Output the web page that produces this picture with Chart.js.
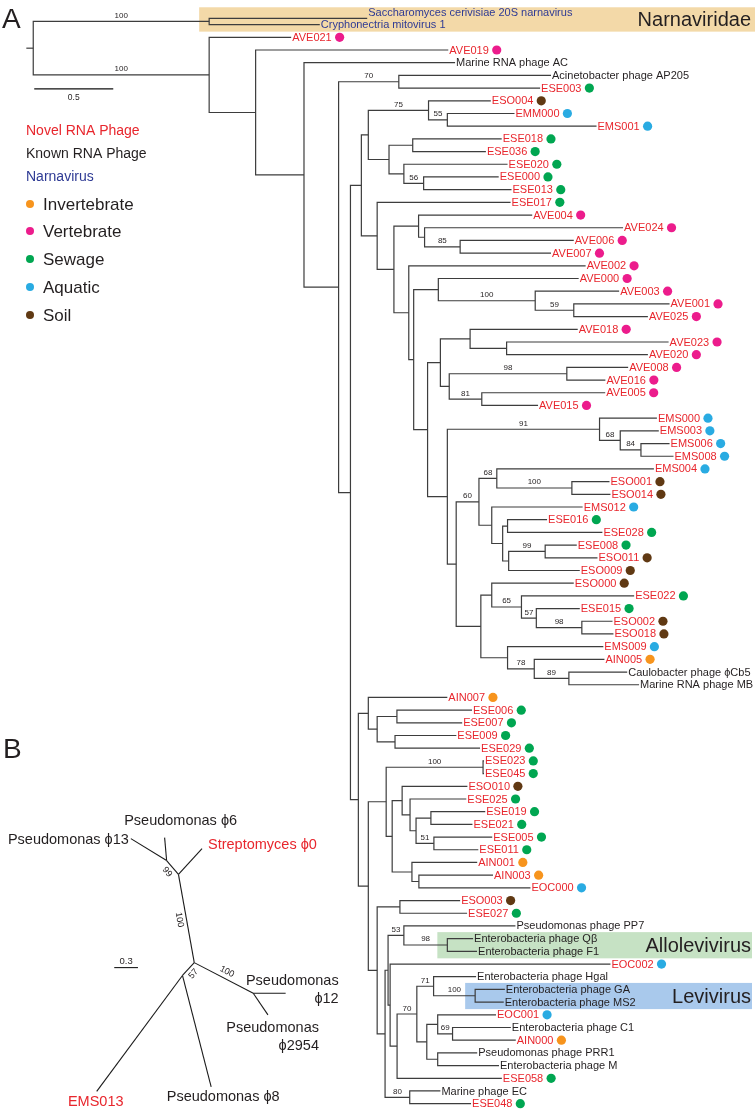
<!DOCTYPE html>
<html><head><meta charset="utf-8"><title>RNA phage phylogeny</title>
<script src="https://cdn.jsdelivr.net/npm/chart.js"></script>
<style>html,body{margin:0;padding:0;background:#fff;overflow:hidden}canvas{display:block}</style>
</head><body>
<canvas id="tree" width="755" height="1116"></canvas>
<script>
// ================= DATA =================
// Panel A: rooted tree in Newick (branch lengths in substitutions/site, internal labels = bootstrap)
const cladeNarnaviridae = "('Saccharomyces cerivisiae 20S narnavirus':1.000,'Cryphonectria mitovirus 1':0.700)100:1.113";
const cladeSewageA = "((ESO004:0.394,(EMM000:0.425,EMS001:0.944)55:0.119)75:0.381,((ESE018:0.563,ESE036:0.463):0.150,(ESE020:0.656,(ESE000:0.475,ESE013:0.556)56:0.125):0.094):0.131):0.044";
const cladeVertA = "(AVE004:0.719,(AVE024:1.256,(AVE006:0.719,AVE007:0.575)85:0.225):0.038):0.156";
const cladeVertB = "(AVE000:0.888,(AVE003:0.531,(AVE001:0.606,AVE025:0.469)59:0.244)100:0.613):0.156";
const cladeVertC = "((AVE018:0.681,(AVE023:1.025,AVE020:0.894):0.231):0.188,((AVE008:0.388,AVE016:0.244)98:0.744,(AVE005:0.781,AVE015:0.356)81:0.206):0.056):0.081";
const cladeAquatic = "(EMS000:0.363,(EMS003:0.244,(EMS006:0.181,EMS008:0.206)84:0.131)68:0.131)91:0.963";
const cladeMixedA = "((EMS004:0.994,(ESO001:0.238,ESO014:0.244)100:0.475)68:0.113,(EMS012:0.575,((ESE016:0.250,ESE028:0.600):0.031,((ESE008:0.200,ESO011:0.331)99:0.231,ESO009:0.450):0.038):0.069):0.081)60:0.144";
const cladeMixedB = "((ESO000:0.519,(ESE022:0.713,(ESE015:0.275,(ESO002:0.194,ESO018:0.200)98:0.288)57:0.094)65:0.188):0.069,(EMS009:0.606,(AIN005:0.444,('Caulobacter phage ϕCb5':0.369,'Marine RNA phage MB':0.444)89:0.219)78:0.169):0.169):0.156";
const cladeSewageB = "(AIN007:0.500,((ESE006:0.475,ESE007:0.413):0.125,(ESE009:0.388,ESE029:0.538):0.113):0.056):0.063";
const cladeSewageC = "((ESE023:0.006,ESE045:0.006)100:0.613,((ESO010:0.413,(ESE025:0.356,((ESE019:0.344,ESE021:0.263):0.094,(ESE005:0.369,ESE011:0.281)51:0.113):0.038):0.050):0.063,(AIN001:0.413,(AIN003:0.469,EOC000:0.706):0.044):0.125):0.038):0.113";
const cladeLevi = "((ESO003:0.381,ESE027:0.425):0.144,((('Pseudomonas phage PP7':0.706,('Enterobacteria phage Qβ':0.163,'Enterobacteria phage F1':0.188)98:0.275)53:0.100,(EOC002:1.394,((('Enterobacteria phage Hgal':0.269,('Enterobacteria phage GA':0.188,'Enterobacteria phage MS2':0.181)100:0.263)71:0.106,((EOC001:0.369,('Enterobacteria phage C1':0.369,AIN000:0.400)69:0.094):0.069,('Pseudomonas phage PRR1':0.250,'Enterobacteria phage M':0.388):0.069):0.063)70:0.125,ESE058:0.663):0.044):0.013):0.019,('Marine phage EC':0.194,ESE048:0.388)80:0.156):0.050):0.056";

const treeNewick =
  "(" + cladeNarnaviridae + ",(AVE021:0.519,(AVE019:1.219,('Marine RNA phage AC':0.956,(('Acinetobacter phage AP205':0.963,ESE003:0.894)70:0.381," +
  "((" + cladeSewageA + ",(ESE017:0.844,(" + cladeVertA + ",(AVE002:1.119,(" + cladeVertB + ",(" + cladeVertC + ",(" + cladeAquatic + ",(" + cladeMixedA + "," + cladeMixedB + "):0.056):0.125):0.088):0.031):0.094):0.106):0.100):0.069," +
  "(" + cladeSewageB + ",(" + cladeSewageC + "," + cladeLevi + "):0.063):0.050):0.075):0.219):0.306):0.294)100:1.113);";

const narnaviruses = ['Saccharomyces cerivisiae 20S narnavirus', 'Cryphonectria mitovirus 1'];
const habitatNames = ['Invertebrate', 'Vertebrate', 'Sewage', 'Aquatic', 'Soil'];
const habitatPrefixes = [['AIN'], ['AVE'], ['ESE'], ['EMS', 'EMM', 'EOC'], ['ESO']];
const habitatColors = ['#f7941d', '#ec1c8c', '#00a651', '#29abe2', '#603913'];
const kindNames = ['Novel RNA Phage', 'Known RNA Phage', 'Narnavirus'];
const kindColors = ['#e8262d', '#231f20', '#2e3a94'];

const highlightNames = ['Narnaviridae', 'Allolevivirus', 'Levivirus'];
const highlightMembers = [
  ['Saccharomyces cerivisiae 20S narnavirus', 'Cryphonectria mitovirus 1'],
  ['Enterobacteria phage Qβ', 'Enterobacteria phage F1'],
  ['Enterobacteria phage GA', 'Enterobacteria phage MS2']
];
const highlightFills = ['#f3d9a8', '#c6e2c4', '#a9c9ec'];
const scaleBarA = 0.5;

// Panel B: unrooted tree (edges: parent, child, branch length, direction in degrees)
const unrootedParents  = ['n3', 'n2', 'n1', 'n1', 'n2', 'n3', 'n4', 'n4', 'n3', 'n5', 'n5'];
const unrootedChildren = ['n2', 'n1', 'Pseudomonas ϕ13', 'Pseudomonas ϕ6', 'Streptomyces ϕ0', 'n4', 'Pseudomonas ϕ12', 'Pseudomonas ϕ2954', 'n5', 'EMS013', 'Pseudomonas ϕ8'];
const unrootedLengths  = [1.13, 0.23, 0.53, 0.29, 0.44, 0.84, 0.41, 0.33, 0.22, 1.82, 1.45];
const unrootedAngles   = [-100.2, -130.6, -148.6, -95, -47.3, 27.3, 0, 55.7, 132.7, 126.6, 75.5];
const unrootedSupportNodes  = ['n1', 'n2', 'n4', 'n5'];
const unrootedSupportValues = [99, 100, 100, 57];
const unrootedNovel = ['Streptomyces ϕ0', 'EMS013'];
const scaleBarB = 0.3;

// ================= BUILD =================
function parseNewick(s) {
  let i = 0;
  const ws = () => { while (i < s.length && /\s/.test(s[i])) i++; };
  const label = () => {
    ws();
    if (s[i] === "'") { i++; const j = s.indexOf("'", i); const t = s.slice(i, j); i = j + 1; return t; }
    let j = i; while (j < s.length && !",():;".includes(s[j])) j++;
    const t = s.slice(i, j).trim(); i = j; return t;
  };
  const node = () => {
    ws();
    const n = { children: [], name: '', support: '', length: 0 };
    if (s[i] === '(') {
      i++;
      n.children.push(node()); ws();
      while (s[i] === ',') { i++; n.children.push(node()); ws(); }
      i++;
      n.support = label();
    } else n.name = label();
    ws();
    if (s[i] === ':') { i++; let j = i; while (j < s.length && !",();".includes(s[j])) j++; n.length = parseFloat(s.slice(i, j)); i = j; }
    return n;
  };
  return node();
}

const root = parseNewick(treeNewick);
const leaves = [], internals = [];
(function walk(n, parent) {
  n.parent = parent;
  n.depth = parent ? parent.depth + n.length : 0;
  if (n.children.length) { internals.push(n); n.children.forEach(c => walk(c, n)); }
  else leaves.push(n);
})(root, null);

let prev = null, r = 0;
leaves.forEach(l => {
  l.compact = false;
  if (prev) {
    const both = narnaviruses.includes(prev.name) && narnaviruses.includes(l.name);
    r += both ? 0.5 : 1;
    if (both) prev.compact = true;
  }
  l.row = r; prev = l;
});
(function setRow(n) {
  if (!n.children.length) return n.row;
  n.children.forEach(setRow);
  n.row = (n.children[0].row + n.children[n.children.length - 1].row) / 2;
  return n.row;
})(root);

function habitatOf(name) {
  for (let k = 0; k < habitatPrefixes.length; k++)
    if (habitatPrefixes[k].some(p => name.startsWith(p))) return k;
  return -1;
}
function kindOf(name) {
  if (narnaviruses.includes(name)) return 2;
  return habitatOf(name) >= 0 ? 0 : 1;
}
const leafByName = {};
leaves.forEach(l => leafByName[l.name] = l);
function ancestors(n) { const a = []; while (n) { a.push(n); n = n.parent; } return a; }
function mrca(a, b) { const A = ancestors(a); let n = b; while (n && !A.includes(n)) n = n.parent; return n; }

// Scale ranges (chart area covers the whole canvas)
const X_MIN = -0.18125, X_MAX = 4.5375;       // panel A branch length axis
const Y_MIN = -1.078125, Y_MAX = 86.109375;   // panel A leaf rows
const XB_MIN = -2.4, XB_MAX = 7.0375;         // panel B units
const YB_MIN = -12.075, YB_MAX = 1.875;
const PX_PER_UNIT = 755 / (X_MAX - X_MIN);
const FONT = '"Liberation Sans", Arial, Helvetica, sans-serif';
const LINE = '#3d3d3d';

const measure = document.createElement('canvas').getContext('2d');
measure.font = '11px ' + FONT;

const datasets = [];
const lineStyle = { showLine: true, pointRadius: 0, borderColor: LINE, borderWidth: 1.2, fill: false, tension: 0, borderCapStyle: 'butt', borderJoinStyle: 'miter', clip: false };

internals.forEach(n => {
  const a = n.children[0], b = n.children[n.children.length - 1];
  datasets.push(Object.assign({
    data: [{ x: a.depth, y: a.row }, { x: n.depth, y: a.row }, { x: n.depth, y: b.row }, { x: b.depth, y: b.row }]
  }, lineStyle));
});
// root stub
datasets.push(Object.assign({ data: [{ x: -7 / PX_PER_UNIT, y: root.row }, { x: 0, y: root.row }] }, lineStyle));
// scale bar A
const sbRow = (85 - 13.8) / 12.8, sbStart = 1 / PX_PER_UNIT;
datasets.push(Object.assign({ data: [{ x: sbStart, y: sbRow }, { x: sbStart + scaleBarA, y: sbRow }] }, lineStyle, { borderColor: '#111', borderWidth: 1.3 }));

// habitat dots
const dotPts = [], dotCols = [];
leaves.forEach(l => {
  const h = habitatOf(l.name);
  if (h < 0) return;
  const w = measure.measureText(l.name).width;
  dotPts.push({ x: l.depth + (1 + w + 8.5) / PX_PER_UNIT, y: l.row });
  dotCols.push(habitatColors[h]);
});
datasets.push({ data: dotPts, showLine: false, pointRadius: 4.6, pointBackgroundColor: dotCols, pointBorderWidth: 0, borderColor: 'transparent', clip: false });

// Panel B geometry
const bPos = { n3: { x: 0, y: 0 } };
unrootedChildren.forEach((c, k) => {
  const p = bPos[unrootedParents[k]], a = unrootedAngles[k] * Math.PI / 180, L = unrootedLengths[k];
  bPos[c] = { x: p.x + L * Math.cos(a), y: p.y + L * Math.sin(a) };
  datasets.push(Object.assign({ xAxisID: 'xb', yAxisID: 'yb', data: [{ x: p.x, y: p.y }, { x: bPos[c].x, y: bPos[c].y }] }, lineStyle, { borderColor: '#1a1a1a', borderWidth: 1.1 }));
});
const sbB = { x: -1.0125, y: 0.0625 };
datasets.push(Object.assign({ xAxisID: 'xb', yAxisID: 'yb', data: [{ x: sbB.x, y: sbB.y }, { x: sbB.x + scaleBarB, y: sbB.y }] }, lineStyle, { borderColor: '#1a1a1a', borderWidth: 1.1 }));

// ================= TEXT / DECOR PLUGIN =================
const supportSides = [1, 1, -1, 1];
const tipLabelStyle = {
  'Pseudomonas ϕ13': { lines: ['Pseudomonas ϕ13'], align: 'right', dx: -2, dy: 1 },
  'Pseudomonas ϕ6': { lines: ['Pseudomonas ϕ6'], align: 'center', dx: 16, dy: -17 },
  'Streptomyces ϕ0': { lines: ['Streptomyces ϕ0'], align: 'left', dx: 6, dy: -4 },
  'Pseudomonas ϕ12': { lines: ['Pseudomonas', 'ϕ12'], align: 'right', dx: 53, dy: -12 },
  'Pseudomonas ϕ2954': { lines: ['Pseudomonas', 'ϕ2954'], align: 'right', dx: 51, dy: 13 },
  'EMS013': { lines: ['EMS013'], align: 'center', dx: -1, dy: 11 },
  'Pseudomonas ϕ8': { lines: ['Pseudomonas ϕ8'], align: 'center', dx: 12, dy: 10 }
};

const treePlugin = {
  id: 'treeDecor',
  beforeDatasetsDraw(chart) {
    const { ctx } = chart, x = chart.scales.x, y = chart.scales.y;
    ctx.save();
    highlightNames.forEach((nm, k) => {
      const m = highlightMembers[k].map(n => leafByName[n]);
      const anc = mrca(m[0], m[m.length - 1]);
      const left = x.getPixelForValue(anc.depth) - 10;
      const top = y.getPixelForValue(m[0].row) - (k === 0 ? 11 : 6.5);
      const bot = y.getPixelForValue(m[m.length - 1].row) + 7;
      const right = k === 0 ? chart.width : chart.width - 3;
      ctx.fillStyle = highlightFills[k];
      ctx.fillRect(left, top, right - left, bot - top);
    });
    ctx.restore();
  },
  afterDatasetsDraw(chart) {
    const { ctx } = chart, x = chart.scales.x, y = chart.scales.y, xb = chart.scales.xb, yb = chart.scales.yb;
    ctx.save();
    // clade names
    ctx.font = '20px ' + FONT; ctx.fillStyle = '#231f20'; ctx.textAlign = 'right'; ctx.textBaseline = 'middle';
    highlightNames.forEach((nm, k) => {
      const m = highlightMembers[k].map(n => leafByName[n]);
      const top = y.getPixelForValue(m[0].row) - (k === 0 ? 11 : 6.5);
      const bot = y.getPixelForValue(m[m.length - 1].row) + 7;
      ctx.fillText(nm, chart.width - 4, (top + bot) / 2 + 1);
    });
    // leaf labels
    ctx.font = '11px ' + FONT; ctx.textAlign = 'left'; ctx.textBaseline = 'middle';
    leaves.forEach(l => {
      ctx.fillStyle = kindColors[kindOf(l.name)];
      ctx.fillText(l.name, x.getPixelForValue(l.depth) + 1, y.getPixelForValue(l.row) + 0.5 - (l.compact ? 6 : 0));
    });
    // bootstrap values
    ctx.font = '8px ' + FONT; ctx.fillStyle = '#231f20'; ctx.textAlign = 'center'; ctx.textBaseline = 'alphabetic';
    internals.forEach(n => {
      if (!n.support || !n.parent) return;
      const px = (x.getPixelForValue(n.parent.depth) + x.getPixelForValue(n.depth)) / 2;
      ctx.fillText(n.support, px, y.getPixelForValue(n.row) - 3.5);
    });
    // scale bar A label
    ctx.font = '8.5px ' + FONT;
    ctx.fillText(String(scaleBarA), (x.getPixelForValue(sbStart) + x.getPixelForValue(sbStart + scaleBarA)) / 2, y.getPixelForValue(sbRow) + 11);
    // panel letters
    ctx.font = '28px ' + FONT; ctx.textAlign = 'left'; ctx.textBaseline = 'alphabetic'; ctx.fillStyle = '#231f20';
    ctx.fillText('A', 2, 28);
    ctx.fillText('B', 3, 758);
    // legend
    ctx.font = '14px ' + FONT; ctx.textBaseline = 'middle';
    const kindY = [131, 154, 177];
    kindNames.forEach((k, i) => { ctx.fillStyle = kindColors[i]; ctx.fillText(k, 26, kindY[i]); });
    ctx.font = '17px ' + FONT;
    const habY = [204, 231, 259, 287, 315];
    habitatNames.forEach((h, i) => {
      ctx.fillStyle = habitatColors[i];
      ctx.beginPath(); ctx.arc(30, habY[i], 4, 0, Math.PI * 2); ctx.fill();
      ctx.fillStyle = '#231f20';
      ctx.fillText(h, 43, habY[i] + 1);
    });
    // panel B tip labels
    ctx.font = '14.5px ' + FONT;
    Object.keys(tipLabelStyle).forEach(name => {
      const st = tipLabelStyle[name], p = bPos[name];
      const px = xb.getPixelForValue(p.x) + st.dx, py = yb.getPixelForValue(p.y) + st.dy;
      ctx.fillStyle = unrootedNovel.includes(name) ? kindColors[0] : '#231f20';
      ctx.textAlign = st.align;
      st.lines.forEach((ln, j) => ctx.fillText(ln, px, py + j * 18));
    });
    // panel B support values (rotated along branches)
    ctx.font = '9px ' + FONT; ctx.fillStyle = '#231f20'; ctx.textAlign = 'center'; ctx.textBaseline = 'middle';
    unrootedSupportNodes.forEach((nd, k) => {
      const e = unrootedChildren.indexOf(nd);
      const p = bPos[unrootedParents[e]], c = bPos[nd];
      const x1 = xb.getPixelForValue(p.x), y1 = yb.getPixelForValue(p.y);
      const x2 = xb.getPixelForValue(c.x), y2 = yb.getPixelForValue(c.y);
      let a = Math.atan2(y2 - y1, x2 - x1);
      if (a > Math.PI / 2) a -= Math.PI;
      if (a <= -Math.PI / 2) a += Math.PI;
      const s = supportSides[k] * 7;
      const mx = (x1 + x2) / 2 - Math.sin(a) * s, my = (y1 + y2) / 2 + Math.cos(a) * s;
      ctx.save(); ctx.translate(mx, my); ctx.rotate(a); ctx.fillText(String(unrootedSupportValues[k]), 0, 0); ctx.restore();
    });
    // scale bar B label
    ctx.font = '9.5px ' + FONT; ctx.textAlign = 'center'; ctx.textBaseline = 'alphabetic';
    ctx.fillText(String(scaleBarB), (xb.getPixelForValue(sbB.x) + xb.getPixelForValue(sbB.x + scaleBarB)) / 2, yb.getPixelForValue(sbB.y) - 4);
    ctx.restore();
  }
};

new Chart(document.getElementById('tree'), {
  type: 'scatter',
  data: { datasets },
  options: {
    responsive: false, animation: false, devicePixelRatio: 1, events: [],
    layout: { padding: 0 },
    plugins: { legend: { display: false }, tooltip: { enabled: false } },
    scales: {
      x: { type: 'linear', display: false, min: X_MIN, max: X_MAX },
      y: { type: 'linear', display: false, min: Y_MIN, max: Y_MAX, reverse: true },
      xb: { type: 'linear', axis: 'x', position: 'bottom', display: false, min: XB_MIN, max: XB_MAX },
      yb: { type: 'linear', axis: 'y', position: 'left', display: false, min: YB_MIN, max: YB_MAX, reverse: true }
    }
  },
  plugins: [treePlugin]
});
</script>
</body></html>
